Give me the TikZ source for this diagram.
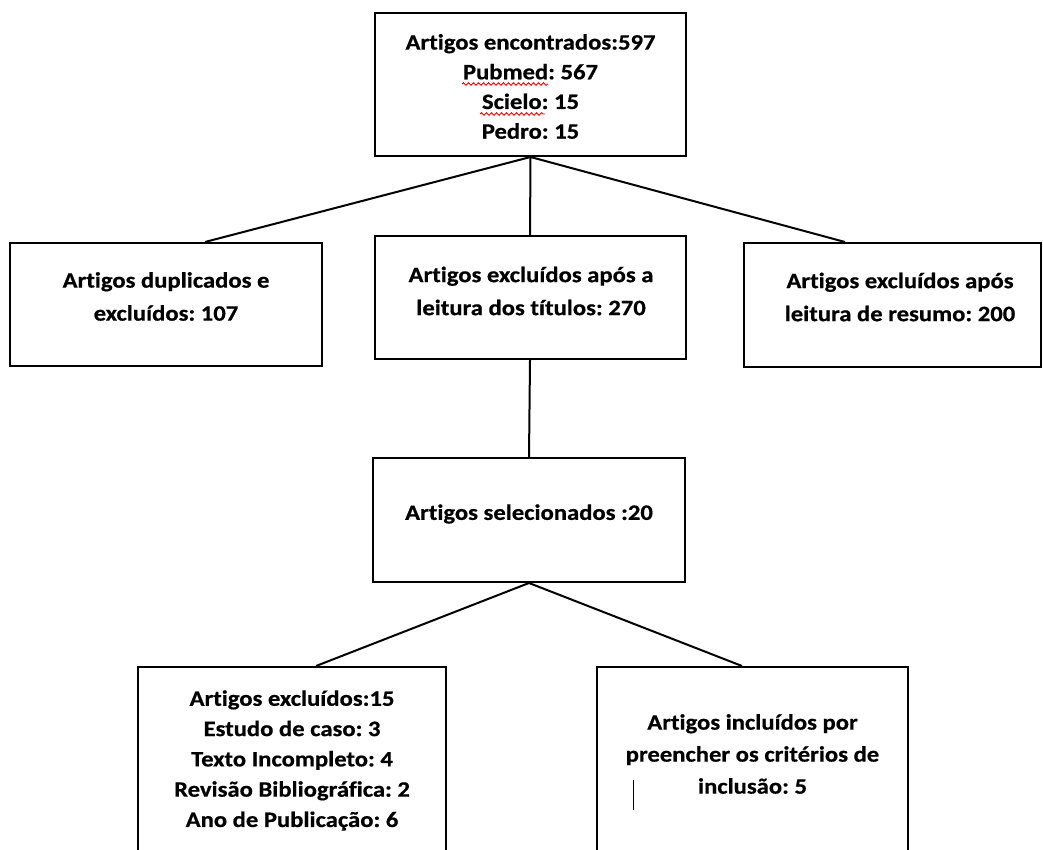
\documentclass[tikz,border=0pt]{standalone}
\usepackage{fontspec}
\setmainfont{Carlito}[FakeStretch=1.12,FakeBold=0.6,RawFeature=-liga]
\usetikzlibrary{decorations.pathmorphing}
\frenchspacing
\begin{document}
\begin{tikzpicture}[x=1pt,y=-1pt,
  box/.style={draw=black,line width=2pt,rectangle,inner sep=0pt},
  txt/.style={align=center,inner sep=0pt,font=\fontsize{22}{#1}\selectfont\bfseries},
  txt/.default=33,
  link/.style={line width=2pt,black},
  squig/.style={red,line width=0.9pt,decorate,decoration={snake,amplitude=1.3pt,segment length=5pt}}]
\clip (0,0) rectangle (1043,850);
\fill[white] (0,0) rectangle (1043,850);
% boxes
\node[box,minimum width=311pt,minimum height=143pt] (top) at (530.5,84.5) {};
\node[box,minimum width=312pt,minimum height=123pt] (left) at (166,304.5) {};
\node[box,minimum width=311pt,minimum height=123pt] (mid) at (530,297.5) {};
\node[box,minimum width=297pt,minimum height=124pt] (right) at (892.5,305) {};
\node[box,minimum width=312pt,minimum height=124pt] (sel) at (529,520) {};
\node[box,minimum width=308pt,minimum height=213pt] (bl) at (292,773.5) {};
\node[box,minimum width=311pt,minimum height=213pt] (br) at (752.5,773.5) {};
% texts
\node[txt=29.7] (topT) at ([yshift=-2pt]top.center) {Artigos encontrados:597\\Pubmed: 567\\Scielo: 15\\Pedro: 15};
\node[txt] (leftT) at (166,296.5) {Artigos duplicados e\\excluídos: 107};
\node[txt] (midT) at (531,291) {Artigos excluídos após a\\leitura dos títulos: 270};
\node[txt] (rightT) at (900,297) {Artigos excluídos após\\leitura de resumo: 200};
\node[txt] (selT) at (529,514) {Artigos selecionados :20};
\node[txt=30.3] (blT) at (292,760.5) {Artigos excluídos:15\\Estudo de caso: 3\\Texto Incompleto: 4\\Revisão Bibliográfica: 2\\Ano de Publicação: 6};
\node[txt=32] (brT) at (752.5,754) {Artigos incluídos por\\preencher os critérios de\\inclusão: 5};
% spell-check underlines
\coordinate (pa) at (462,84); \coordinate (pb) at (548,84);
\coordinate (sa) at (480,114); \coordinate (sb) at (545,114);
\draw[squig] (pa) -- (pb);
\draw[squig] (sa) -- (sb);
% text cursor
\coordinate (ca) at (633,780); \coordinate (cb) at (633,810);
\draw[line width=1pt] (ca) -- (cb);
% connectors
\draw[link] (top.south) -- ([xshift=39pt]left.north);
\draw[link] (top.south) -- (mid.north);
\draw[link] (top.south) -- ([xshift=-47.5pt]right.north);
\draw[link] (mid.south) -- (sel.north);
\draw[link] (sel.south) -- ([xshift=24pt]bl.north);
\draw[link] (sel.south) -- ([xshift=-10.5pt]br.north);
\end{tikzpicture}
\end{document}
